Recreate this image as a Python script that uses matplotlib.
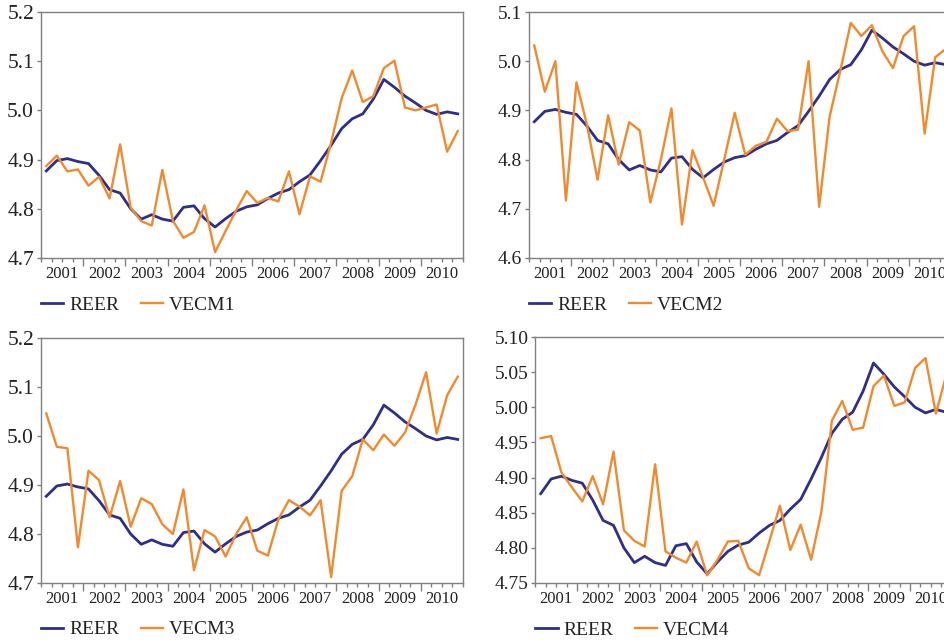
import matplotlib.pyplot as plt
import numpy as np
from matplotlib.ticker import FormatStrFormatter

plt.rcParams['font.family'] = ['Liberation Serif', 'DejaVu Serif']

# Data: quarterly 2001Q1 - 2010Q4
years = list(range(2001, 2011))
quarters = np.arange(40)

reer = [4.877, 4.898, 4.902, 4.896, 4.892, 4.868, 4.839, 4.832, 4.800, 4.779,
        4.788, 4.779, 4.775, 4.803, 4.806, 4.780, 4.763, 4.780, 4.795, 4.804,
        4.808, 4.821, 4.832, 4.839, 4.855, 4.869, 4.898, 4.929, 4.963, 4.983,
        4.993, 5.023, 5.063, 5.047, 5.029, 5.015, 5.000, 4.992, 4.997, 4.993]

vecm1 = [4.887, 4.908, 4.876, 4.880, 4.847, 4.865, 4.821, 4.931, 4.802, 4.775,
         4.766, 4.879, 4.776, 4.741, 4.753, 4.807, 4.712, 4.755, 4.797, 4.836,
         4.812, 4.822, 4.815, 4.876, 4.789, 4.866, 4.855, 4.935, 5.025, 5.081,
         5.017, 5.029, 5.086, 5.101, 5.006, 5.000, 5.006, 5.012, 4.916, 4.958]

vecm2 = [5.032, 4.938, 5.000, 4.717, 4.957, 4.870, 4.759, 4.890, 4.790, 4.876,
         4.859, 4.713, 4.800, 4.904, 4.668, 4.819, 4.764, 4.706, 4.800, 4.895,
         4.810, 4.828, 4.836, 4.883, 4.858, 4.861, 5.000, 4.704, 4.888, 4.980,
         5.078, 5.051, 5.073, 5.020, 4.986, 5.051, 5.071, 4.853, 5.008, 5.025]

vecm3 = [5.046, 4.978, 4.975, 4.773, 4.929, 4.910, 4.834, 4.908, 4.815, 4.873,
         4.861, 4.820, 4.800, 4.891, 4.726, 4.808, 4.795, 4.754, 4.800, 4.834,
         4.766, 4.756, 4.830, 4.869, 4.856, 4.838, 4.869, 4.712, 4.888, 4.918,
         4.993, 4.971, 5.003, 4.980, 5.007, 5.064, 5.130, 5.005, 5.083, 5.121]

vecm4 = [4.956, 4.959, 4.907, 4.886, 4.866, 4.902, 4.862, 4.937, 4.825, 4.810,
         4.802, 4.919, 4.795, 4.786, 4.779, 4.809, 4.761, 4.783, 4.809, 4.810,
         4.771, 4.761, 4.810, 4.860, 4.797, 4.833, 4.783, 4.852, 4.981, 5.009,
         4.968, 4.971, 5.030, 5.045, 5.002, 5.007, 5.056, 5.070, 4.991, 5.046]

navy = '#2e2e8c'
orange = '#f08a2c'
frame = '#808080'

W, H = 945, 641
fig = plt.figure(figsize=(W / 100, H / 100), dpi=100)

# (series, name, box in px: left, top, width, height, y range, y step, y format, y label size)
panels = [
    (vecm1, 'VECM1', (41, 12, 422, 246), (4.7, 5.2), 0.1, '%.1f', 15.5),
    (vecm2, 'VECM2', (529, 12, 422, 246), (4.6, 5.1), 0.1, '%.1f', 14),
    (vecm3, 'VECM3', (41, 338, 422, 245), (4.7, 5.2), 0.1, '%.1f', 15.5),
    (vecm4, 'VECM4', (535.5, 337, 416, 246), (4.75, 5.10), 0.05, '%.2f', 14),
]

for series, name, (l, t, w, h), (lo, hi), step, fmt, ysize in panels:
    ax = fig.add_axes([l / W, 1 - (t + h) / H, w / W, h / H])
    ax.plot(quarters, reer, color=navy, lw=2.0, label='REER')
    ax.plot(quarters, series, color=orange, lw=1.7, label=name)

    ax.set_xlim(-0.5, 39.5)
    ax.set_ylim(lo, hi)
    ax.set_yticks(np.arange(lo, hi + step / 2, step))
    ax.yaxis.set_major_formatter(FormatStrFormatter(fmt))

    ax.set_xticks(np.arange(3.5, 39, 4))
    ax.set_xticks(np.arange(-0.5, 40, 1), minor=True)
    ax.tick_params(axis='x', which='major', length=6, width=1, color=frame,
                   labelbottom=False)
    ax.tick_params(axis='x', which='minor', length=3, width=1, color=frame)
    ax.tick_params(axis='y', length=3, width=1, color=frame, pad=2,
                   labelsize=ysize, labelcolor='#222222')

    for k, yr in enumerate(years):
        ax.text(1.5 + 4 * k, -0.067, str(yr), transform=ax.get_xaxis_transform(),
                ha='center', va='center', fontsize=12, color='#222222')

    for s in ax.spines.values():
        s.set_color(frame)
        s.set_linewidth(1)

    leg = ax.legend(loc='center left', bbox_to_anchor=(0, -0.19), ncol=2,
                    frameon=False, fontsize=14, handlelength=1.15,
                    handletextpad=0.3, columnspacing=1.1, borderpad=0,
                    borderaxespad=0)
    for txt in leg.get_texts():
        txt.set_color('#222222')

fig.savefig('out.png', dpi=100)
